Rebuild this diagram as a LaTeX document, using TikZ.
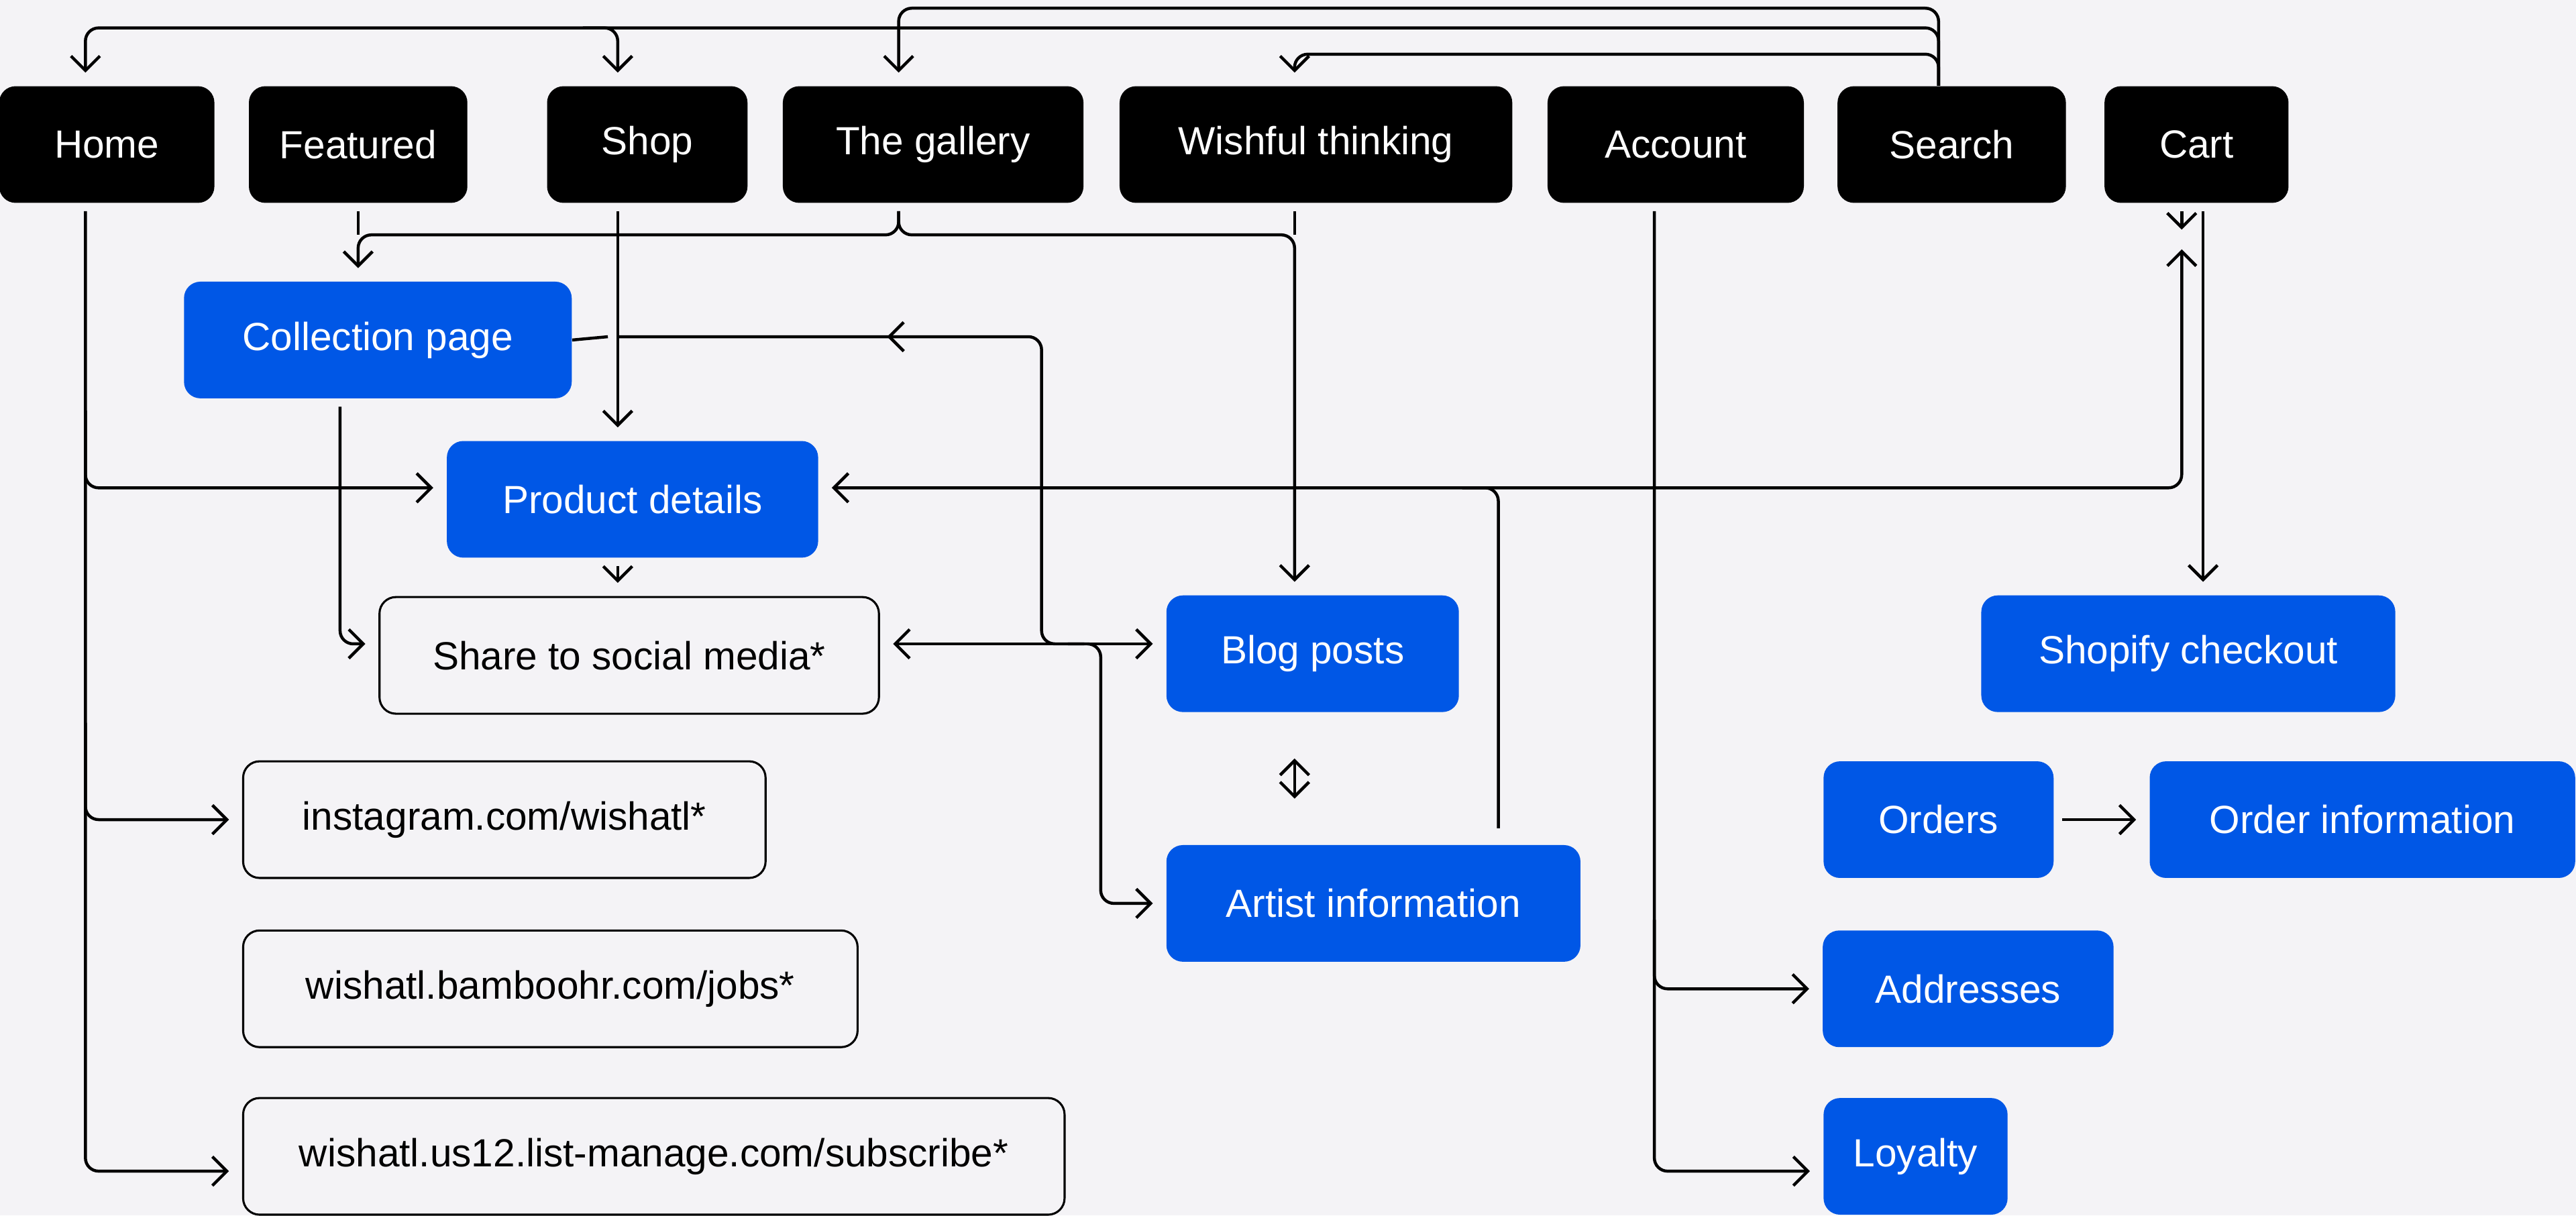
\documentclass[tikz,border=0pt]{standalone}
\usepackage{fontspec}
\setmainfont{Liberation Sans}
\usetikzlibrary{arrows.meta}
\definecolor{bgc}{HTML}{F4F3F6}
\definecolor{blu}{HTML}{0057E6}
\begin{document}
\begin{tikzpicture}[x=0.025cm, y=-0.025cm,
   box/.style={rounded corners=0.25cm, minimum height=1.775cm, inner sep=0pt,
      font=\fontsize{17}{20}\selectfont},
   top/.style={box, fill=black, text=white},
   page/.style={box, fill=blu, text=white},
   ext/.style={box, draw=black, line width=0.9pt, fill=bgc, text=black},
   line/.style={line width=1.3pt, rounded corners=0.2cm, shorten <=0.12cm},
   link/.style={line, -{Straight Barb[length=2.2mm,width=4.4mm,line width=1.3pt]}, shorten >=0.2cm},
   link2/.style={link, {Straight Barb[length=2.2mm,width=4.4mm,line width=1.3pt]}-{Straight Barb[length=2.2mm,width=4.4mm,line width=1.3pt]}, shorten <=0.2cm}]
   \fill[bgc] (0,0) rectangle (1568,740);
   \useasboundingbox (0,0) rectangle (1568,740);
   % top menu
   \node[top, minimum width=131*0.025cm] (home) at (65,88) {Home};
   \node[top, minimum width=133*0.025cm] (featured) at (218,88) {Featured};
   \node[top, minimum width=122*0.025cm] (shop) at (394,88) {Shop};
   \node[top, minimum width=183*0.025cm] (gallery) at (568,88) {The gallery};
   \node[top, minimum width=239*0.025cm] (wish) at (801,88) {Wishful thinking};
   \node[top, minimum width=156*0.025cm] (account) at (1020,88) {Account};
   \node[top, minimum width=139*0.025cm] (search) at (1188,88) {Search};
   \node[top, minimum width=112*0.025cm] (cart) at (1337,88) {Cart};
   % pages
   \node[page, minimum width=236*0.025cm] (collection) at (230,207) {Collection page};
   \node[page, minimum width=226*0.025cm] (product) at (385,304) {Product details};
   \node[ext, minimum width=304*0.025cm] (share) at (383,399) {Share to social media*};
   \node[ext, minimum width=318*0.025cm] (insta) at (307,499) {instagram.com/wishatl*};
   \node[ext, minimum width=374*0.025cm] (jobs) at (335,602) {wishatl.bamboohr.com/jobs*};
   \node[ext, minimum width=500*0.025cm] (list) at (398,704) {wishatl.us12.list-manage.com/subscribe*};
   \node[page, minimum width=178*0.025cm] (blog) at (799,398) {Blog posts};
   \node[page, minimum width=252*0.025cm] (artist) at (836,550) {Artist information};
   \node[page, minimum width=252*0.025cm] (shopify) at (1332,398) {Shopify checkout};
   \node[page, minimum width=140*0.025cm] (orders) at (1180,499) {Orders};
   \node[page, minimum width=259*0.025cm] (orderinfo) at (1438,499) {Order information};
   \node[page, minimum width=177*0.025cm] (addresses) at (1198,602) {Addresses};
   \node[page, minimum width=112*0.025cm] (loyalty) at (1166,704) {Loyalty};
   % lanes
   \coordinate (lh) at (52,0);
   \coordinate (ls) at (376,0);
   \coordinate (lg) at (547,0);
   \coordinate (lw) at (788,0);
   \coordinate (la) at (1007,0);
   \coordinate (lc) at (1328,0);
   \coordinate (lk) at (1341,0);
   % search
   \draw[link, shorten <=0pt] ([xshift=-0.2cm]search.north) |- (52,17) -- (home.north -| lh);
   \draw[link] (350,17) -| (shop.north -| ls);
   \draw[link, shorten <=0pt] ([xshift=-0.2cm]search.north) |- (547,5) -- (gallery.north -| lg);
   \draw[link, shorten <=0pt] ([xshift=-0.2cm]search.north) |- (788,33) -- (wish.north -| lw);
   % menu down
   \draw[line] (featured.south) -- (218,143);
   \draw[link] (gallery.south -| lg) |- (218,143) -- (collection.north -| 218,0);
   \draw[link] (gallery.south -| lg) |- (788,143) -- (blog.north -| lw);
   \draw[line] (wish.south -| lw) -- (788,143);
   \draw[link] (shop.south -| ls) -- (product.north -| ls);
   \draw[line, shorten <=0pt] (collection.east) -- (370,205);
   \draw[line, shorten <=0pt] (660,392) -| (634,205) -- (376,205);
   \draw[link, shorten <=0pt] (545,205) -- (532,205);
   \draw[link2] ([yshift=0.175cm]share.east) -- ([yshift=0.175cm]share.east -| blog.west);
   \draw[link, shorten <=0pt] (650,392) -| (670,470) |- (artist.west);
   \draw[link] (collection.south -| 207,0) |- ([yshift=0.175cm]share.west);
   \draw[link] (product.south -| ls) -- (share.north -| ls);
   % home
   \draw[link] (home.south -| lh) |- ([yshift=-0.225cm]list.west);
   \draw[link, shorten <=0pt] (52,250) |- ([yshift=0.175cm]product.west);
   \draw[link, shorten <=0pt] (52,440) |- (insta.west);
   % account
   \draw[link] (account.south -| la) |- ([yshift=-0.225cm]loyalty.west);
   \draw[link, shorten <=0pt] (1007,560) |- (addresses.west);
   \draw[link] (orders.east) -- (orderinfo.west);
   % cart
   \draw[link2] ([yshift=-0.5cm]cart.south -| lc) |- ([yshift=0.175cm]product.east);
   \draw[link, shorten >=0pt] (cart.south -| lc) -- ++(0,16);
   \draw[line, shorten <=0.25cm] ([xshift=1.9cm]artist.north) |- (890,297);
   \draw[link] (cart.south -| lk) -- (shopify.north -| lk);
   \draw[link2, shorten <=0.7cm, shorten >=0.7cm] (blog.south -| lw) -- (artist.north -| lw);
\end{tikzpicture}
\end{document}
